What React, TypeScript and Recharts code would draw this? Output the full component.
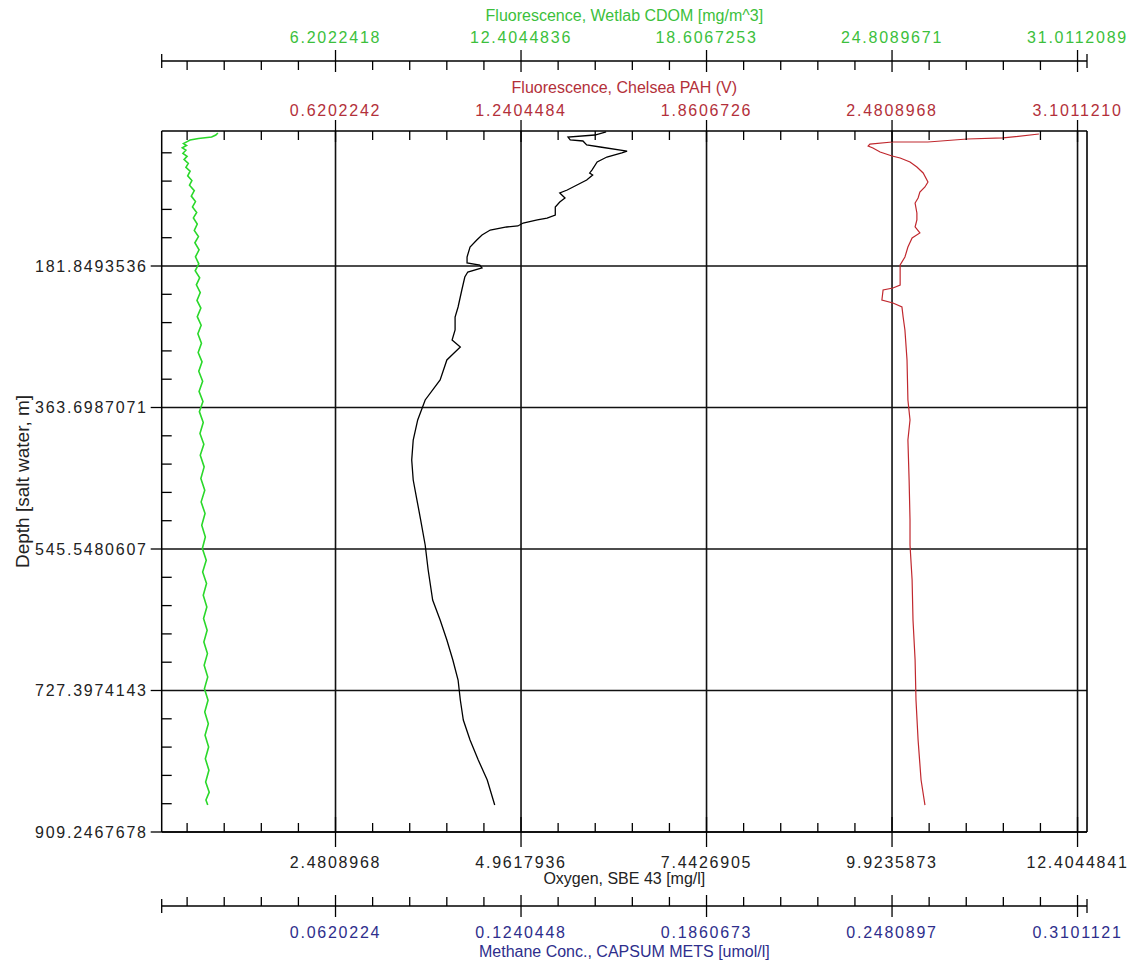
import React from 'react';
import { ScatterChart, Scatter, XAxis, YAxis, ReferenceLine, Label } from 'recharts';

// labelled (major) ticks of every axis, as printed on the plot
const oxygenTicks = [2.4808968, 4.9617936, 7.4426905, 9.9235873, 12.4044841];
const oxygenLabels = ['2.4808968', '4.9617936', '7.4426905', '9.9235873', '12.4044841'];
const methaneTicks = [0.0620224, 0.1240448, 0.1860673, 0.2480897, 0.3101121];
const methaneLabels = ['0.0620224', '0.1240448', '0.1860673', '0.2480897', '0.3101121'];
const cdomTicks = [6.2022418, 12.4044836, 18.6067253, 24.8089671, 31.0112089];
const cdomLabels = ['6.2022418', '12.4044836', '18.6067253', '24.8089671', '31.0112089'];
const pahTicks = [0.6202242, 1.2404484, 1.8606726, 2.4808968, 3.101121];
const pahLabels = ['0.6202242', '1.2404484', '1.8606726', '2.4808968', '3.1011210'];
const depthTicks = [181.8493536, 363.6987071, 545.5480607, 727.3974143, 909.2467678];
const depthLabels = ['181.8493536', '363.6987071', '545.5480607', '727.3974143', '909.2467678'];
const depthMin = 8.35;

// profiles: [depth (m), value]
const oxygenProfile: [number, number][] = [
  [9.6, 6.1], [13.5, 5.95], [16.1, 5.59], [19.9, 5.62], [21.2, 5.79], [26.3, 5.84], [28.9, 6.02],
  [34.1, 6.38], [36.6, 6.31], [41.8, 6.11], [48.2, 5.98], [58.5, 5.91], [62.3, 5.88], [64.9, 5.92],
  [71.3, 5.84], [77.8, 5.71], [84.2, 5.58], [88.0, 5.48], [94.5, 5.55], [99.6, 5.48], [106.0, 5.42],
  [116.3, 5.42], [120.2, 5.31], [122.7, 5.18], [126.6, 4.99], [130.4, 4.92], [131.7, 4.77],
  [135.6, 4.55], [142.0, 4.44], [148.4, 4.37], [157.4, 4.28], [170.3, 4.24], [178.0, 4.24],
  [180.6, 4.41], [184.4, 4.44], [189.6, 4.25], [196.0, 4.21], [212.7, 4.17], [234.5, 4.12],
  [247.4, 4.08], [264.1, 4.08], [276.9, 4.04], [285.9, 4.15], [292.4, 4.08], [302.6, 3.97],
  [328.3, 3.88], [354.0, 3.68], [379.7, 3.58], [405.5, 3.52], [431.2, 3.5], [456.9, 3.52],
  [482.6, 3.57], [508.3, 3.62], [540.4, 3.68], [572.5, 3.72], [611.1, 3.78], [636.8, 3.88],
  [662.5, 3.97], [688.2, 4.05], [713.9, 4.12], [739.6, 4.15], [765.3, 4.19], [791.0, 4.28],
  [816.7, 4.39], [842.4, 4.51], [868.1, 4.59], [874.6, 4.61],
];

const pahProfile: [number, number][] = [
  [12.2, 2.972], [17.3, 2.852], [18.6, 2.732], [22.5, 2.601], [22.5, 2.481], [25.1, 2.407],
  [27.6, 2.401], [30.2, 2.417], [35.3, 2.441], [40.5, 2.481], [43.1, 2.508], [48.2, 2.541],
  [54.6, 2.564], [62.3, 2.585], [73.9, 2.601], [80.3, 2.591], [86.8, 2.574], [94.5, 2.568],
  [100.9, 2.558], [113.7, 2.564], [122.7, 2.564], [131.7, 2.558], [139.4, 2.574], [145.9, 2.548],
  [157.4, 2.534], [170.3, 2.524], [180.6, 2.508], [196.0, 2.508], [206.3, 2.508], [210.1, 2.484],
  [212.7, 2.451], [225.5, 2.447], [229.4, 2.484], [234.5, 2.514], [247.4, 2.518], [264.1, 2.524],
  [302.6, 2.531], [354.0, 2.534], [379.7, 2.541], [405.5, 2.534], [456.9, 2.538], [508.3, 2.541],
  [540.4, 2.541], [585.4, 2.548], [636.8, 2.551], [688.2, 2.558], [739.6, 2.561], [791.0, 2.568],
  [842.4, 2.578], [874.6, 2.591],
];

const cdomProfile: [number, number][] = [
  [10.9, 2.27], [13.5, 2.2], [16, 2.06], [18, 1.62], [20, 1.34], [22, 1.24], [24.5, 1.12], [27, 1.22],
  [30, 1.08], [33, 1.2], [37, 1.1], [41, 1.24], [45, 1.14], [50, 1.28], [55, 1.2], [60, 1.34],
  [66, 1.26], [72, 1.4], [78, 1.32], [85, 1.48], [92, 1.38], [99, 1.52], [106, 1.42], [113, 1.56],
  [120, 1.45], [128, 1.58], [136, 1.48], [144, 1.62], [152, 1.5], [161, 1.64], [170, 1.52],
  [179, 1.63], [188, 1.51], [197, 1.66], [206, 1.55], [216, 1.68], [226, 1.57], [236, 1.7],
  [247, 1.58], [258, 1.71], [269, 1.6], [281, 1.72], [293, 1.61], [305, 1.74], [317, 1.63],
  [330, 1.76], [343, 1.64], [356, 1.77], [369, 1.65], [383, 1.78], [397, 1.67], [411, 1.8],
  [425, 1.68], [440, 1.81], [455, 1.7], [470, 1.83], [485, 1.71], [500, 1.84], [515, 1.73],
  [530, 1.85], [545, 1.75], [560, 1.88], [575, 1.76], [590, 1.89], [605, 1.78], [620, 1.9],
  [635, 1.79], [650, 1.91], [665, 1.8], [680, 1.92], [695, 1.81], [710, 1.93], [725, 1.82],
  [740, 1.94], [755, 1.83], [770, 1.95], [785, 1.84], [800, 1.96], [815, 1.85], [830, 1.97],
  [845, 1.86], [858, 1.98], [868, 1.87], [874.6, 1.93],
];

const FONT = '"Liberation Sans", Arial, sans-serif';
const GREEN = '#3cbf3c';
const RED = '#b3303a';
const BLUE = '#2e2e8c';

// the x axes run a little past their labelled range on both sides
const LO = 0.0126;
const HI = 1.0102;
const domainOf = (t: number[]) => [t[4] * LO, t[4] * HI];
const tickSet = (t: number[]) => {
  const step = t[0] / 5;
  const out = [t[4] * LO];
  for (let i = 1; i <= 25; i++) out.push(step * i);
  out.push(t[4] * HI);
  return out;
};
const toRows = (p: [number, number][]) => p.map(([d, v]) => ({ d, v }));

const makeXTick =
  (ticks: number[], labels: string[], color: string, side: 'top' | 'bottom', ends: boolean, major: number, gap: number) =>
  (props: any) => {
    const { x, y, payload } = props;
    const v = payload.value;
    const M = ticks[4];
    const dir = side === 'top' ? 1 : -1;
    if (v < ticks[0] / 10 || v > M * 1.002) {
      if (!ends) return <g />;
      return <line x1={x} x2={x} y1={y - 7} y2={y + 7} stroke="#000" strokeWidth={1.3} />;
    }
    const mi = ticks.findIndex((t) => Math.abs(t - v) < M * 0.002);
    if (mi >= 0) {
      return (
        <g>
          <line x1={x} x2={x} y1={y - major} y2={y + major} stroke="#000" strokeWidth={1.3} />
          <text x={x} y={y + gap} textAnchor="middle" fill={color} fontSize={16} letterSpacing={1.75} fontFamily={FONT}>
            {labels[mi]}
          </text>
        </g>
      );
    }
    return <line x1={x} x2={x} y1={y} y2={y + dir * 9} stroke="#000" strokeWidth={1.3} />;
  };

const DepthTick = (props: any) => {
  const { x, y, payload } = props;
  const v = payload.value;
  const mi = depthTicks.findIndex((t) => Math.abs(t - v) < 1);
  if (mi >= 0) {
    return (
      <g>
        <line x1={x - 11} x2={x} y1={y} y2={y} stroke="#000" strokeWidth={1.3} />
        <text x={x - 14} y={y} dy="0.36em" textAnchor="end" fill="#222" fontSize={16} letterSpacing={1.75} fontFamily={FONT}>
          {depthLabels[mi]}
        </text>
      </g>
    );
  }
  return <line x1={x} x2={x + 10} y1={y} y2={y} stroke="#000" strokeWidth={1.3} />;
};

const depthTickSet = (() => {
  const step = depthTicks[0] / 5;
  const out: number[] = [];
  for (let i = 1; i <= 25; i++) out.push(step * i);
  return out;
})();

const axisLine = { stroke: '#000', strokeWidth: 1.5 };
const titleStyle = (fill: string) => ({ fill, fontSize: 16, fontFamily: FONT });

export default function App() {
  const oxyDomain = domainOf(oxygenTicks);
  return (
    <div style={{ width: 1133, height: 965, background: '#fff' }}>
      <style>{'body{margin:0;overflow:hidden}'}</style>
      <ScatterChart width={1133} height={965} margin={{ top: 0, right: 46, bottom: 0, left: 0 }}>
        {/* outer axes first, inner (next to the plot) last */}
        <XAxis
          xAxisId="b_cdom" orientation="top" type="number" dataKey="v" height={61}
          domain={domainOf(cdomTicks)} allowDataOverflow ticks={tickSet(cdomTicks)} interval={0}
          tickSize={0} tickMargin={0} tickLine={false} axisLine={axisLine}
          tick={makeXTick(cdomTicks, cdomLabels, GREEN, 'top', true, 11, -18)}
        >
          <Label value="Fluorescence, Wetlab CDOM [mg/m^3]" position="insideTop" offset={10} style={titleStyle(GREEN)} />
        </XAxis>
        <XAxis
          xAxisId="a_pah" orientation="top" type="number" dataKey="v" height={70}
          domain={domainOf(pahTicks)} allowDataOverflow ticks={tickSet(pahTicks)} interval={0}
          tickSize={0} tickMargin={0} tickLine={false} axisLine={axisLine}
          tick={makeXTick(pahTicks, pahLabels, RED, 'top', false, 11, -15)}
        >
          <Label value="Fluorescence, Chelsea PAH (V)" position="insideTop" offset={21} style={titleStyle(RED)} />
        </XAxis>
        <XAxis
          xAxisId="b_ch4" orientation="bottom" type="number" dataKey="v" height={59}
          domain={domainOf(methaneTicks)} allowDataOverflow ticks={tickSet(methaneTicks)} interval={0}
          tickSize={0} tickMargin={0} tickLine={false} axisLine={axisLine}
          tick={makeXTick(methaneTicks, methaneLabels, BLUE, 'bottom', true, 11, 32)}
        >
          <Label value="Methane Conc., CAPSUM METS [umol/l]" position="insideBottom" offset={8} style={titleStyle(BLUE)} />
        </XAxis>
        <XAxis
          xAxisId="a_oxy" orientation="bottom" type="number" dataKey="v" height={74}
          domain={oxyDomain} allowDataOverflow ticks={tickSet(oxygenTicks)} interval={0}
          tickSize={0} tickMargin={0} tickLine={false} axisLine={axisLine}
          tick={makeXTick(oxygenTicks, oxygenLabels, '#222', 'bottom', false, 15, 36)}
        >
          <Label value="Oxygen, SBE 43 [mg/l]" position="insideBottom" offset={22} style={titleStyle('#222')} />
        </XAxis>
        <YAxis
          yAxisId="depth" type="number" dataKey="d" width={161.7} reversed
          domain={[depthMin, depthTicks[4]]} allowDataOverflow ticks={depthTickSet} interval={0}
          tickSize={0} tickMargin={0} tickLine={false} axisLine={axisLine} tick={DepthTick}
        >
          <Label
            value="Depth [salt water, m]" angle={-90} position="insideLeft" offset={22}
            style={{ fill: '#222', fontSize: 19, fontFamily: FONT, textAnchor: 'middle' }}
          />
        </YAxis>

        {oxygenTicks.map((t) => (
          <ReferenceLine key={'gx' + t} x={t} xAxisId="a_oxy" yAxisId="depth" stroke="#111" strokeWidth={1.6} ifOverflow="visible" />
        ))}
        {depthTicks.map((t) => (
          <ReferenceLine key={'gy' + t} y={t} xAxisId="a_oxy" yAxisId="depth" stroke="#111" strokeWidth={1.6} ifOverflow="visible" />
        ))}
        <ReferenceLine x={oxyDomain[1]} xAxisId="a_oxy" yAxisId="depth" stroke="#000" strokeWidth={1.6} ifOverflow="visible" />

        <Scatter
          data={toRows(cdomProfile)} xAxisId="b_cdom" yAxisId="depth" fill="#2bd82b"
          line={{ stroke: '#2bd82b', strokeWidth: 1.6 }} shape={() => <g />} isAnimationActive={false}
        />
        <Scatter
          data={toRows(oxygenProfile)} xAxisId="a_oxy" yAxisId="depth" fill="#000"
          line={{ stroke: '#000', strokeWidth: 1.3 }} shape={() => <g />} isAnimationActive={false}
        />
        <Scatter
          data={toRows(pahProfile)} xAxisId="a_pah" yAxisId="depth" fill="#c0282e"
          line={{ stroke: '#c0282e', strokeWidth: 1.2 }} shape={() => <g />} isAnimationActive={false}
        />
        <Scatter data={[]} xAxisId="b_ch4" yAxisId="depth" fill={BLUE} shape={() => <g />} isAnimationActive={false} />
      </ScatterChart>
    </div>
  );
}
